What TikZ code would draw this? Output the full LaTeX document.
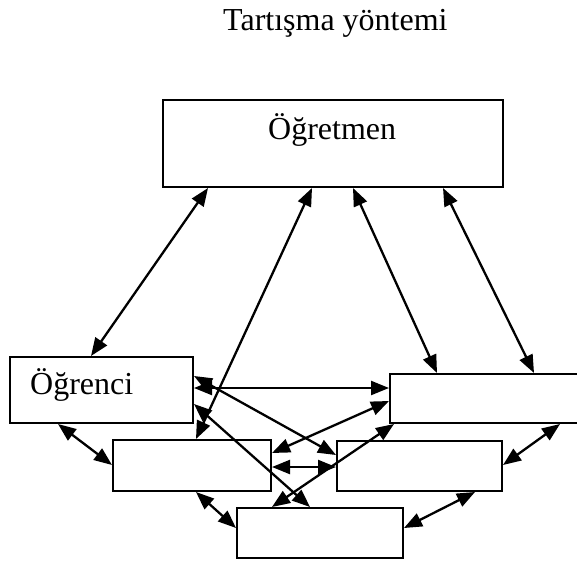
\documentclass[tikz,border=0pt]{standalone}
\usepackage{fontspec}
\setmainfont{Liberation Serif}
\usetikzlibrary{arrows.meta,calc}
\begin{document}
\begin{tikzpicture}[x=1pt,y=-1pt,
  box/.style={draw=black,line width=2pt,fill=white,inner sep=0pt,anchor=north west},
  lbl/.style={inner sep=0pt,anchor=base west,font=\fontsize{32}{38}\selectfont},
  link/.style={line width=2.3pt,{Triangle[length=18pt,width=14pt]}-{Triangle[length=18pt,width=14pt]}}]
\useasboundingbox (0,0) rectangle (577,561);
\clip (0,0) rectangle (577,561);

% boxes
\node[box,minimum width=340pt,minimum height=87pt] (T) at (162,99) {};
\node[box,minimum width=183pt,minimum height=66pt] (S) at (9,356) {};
\node[box,minimum width=200pt,minimum height=49pt] (R) at (389,373) {};
\node[box,minimum width=158pt,minimum height=51pt] (ML) at (112,439) {};
\node[box,minimum width=165pt,minimum height=50pt] (MR) at (336,440) {};
\node[box,minimum width=166pt,minimum height=50pt] (B) at (236,507) {};

% texts
\node[lbl] (title) at (223,31) {Tartışma yöntemi};
\node[lbl] (tlab) at (268,140) {Öğretmen};
\node[lbl] (slab) at (30,394) {Öğrenci};

% connectors
\draw[link] ($(T.south west)+(46,0)$) -- ($(S.north west)+(82,0)$);
\draw[link] ($(T.south west)+(150,0)$) -- ($(ML.north west)+(84,0)$);
\draw[link] ($(T.south west)+(191,0)$) -- ($(R.north west)+(48,0)$);
\draw[link] ($(T.south west)+(281,0)$) -- ($(R.north west)+(145,0)$);
\draw[link] ($(S.north east)+(0,32)$) -- ($(R.north west)+(0,15)$);
\draw[link] ($(S.north east)+(0,20)$) -- ($(MR.north west)+(0,15)$);
\draw[link] ($(S.north east)+(0,48)$) -- ($(B.north west)+(74,0)$);
\draw[link] ($(ML.north east)+(0,14)$) -- ($(R.north west)+(0,28)$);
\draw[link] ($(ML.north east)+(0,28)$) -- ($(MR.north west)+(0,27)$);
\draw[link] ($(B.north west)+(36,0)$) -- ($(R.south west)+(5,0)$);
\draw[link] ($(S.south west)+(49,0)$) -- ($(ML.north west)+(0,26)$);
\draw[link] ($(MR.north east)+(0,25)$) -- ($(R.south west)+(171,0)$);
\draw[link] ($(ML.south west)+(84,0)$) -- ($(B.north west)+(0,21)$);
\draw[link] ($(B.north east)+(0,21)$) -- ($(MR.south west)+(139,0)$);
\end{tikzpicture}
\end{document}
